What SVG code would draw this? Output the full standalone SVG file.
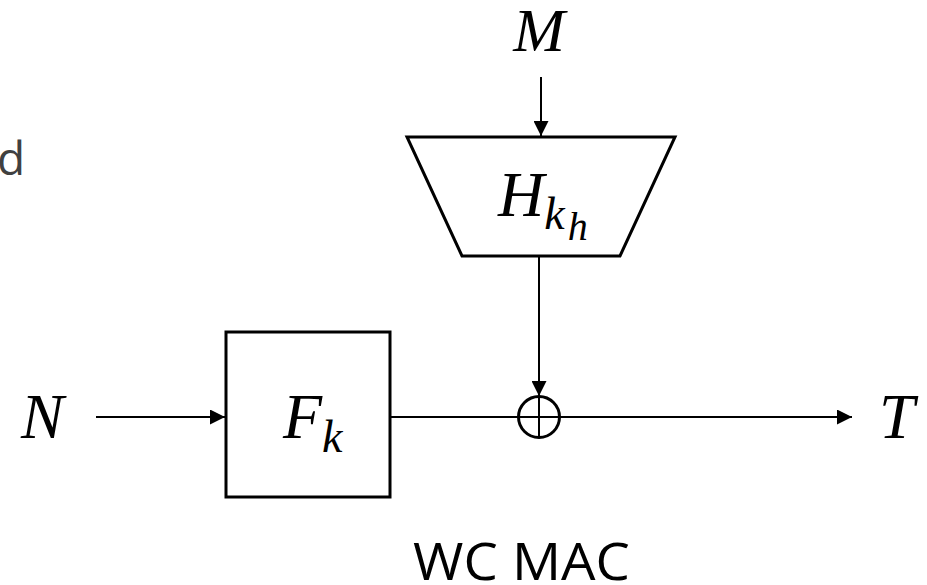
<svg xmlns="http://www.w3.org/2000/svg" width="927" height="585" viewBox="0 0 927 585">
<style>
.m{font-family:"Liberation Serif","DejaVu Serif",serif;font-style:italic;fill:#000}
.s{font-family:"Open Sans","Noto Sans",sans-serif}
.sh{fill:#fff;stroke:#000;stroke-width:3}
.c{fill:none;stroke:#000;stroke-width:2}
</style>
<defs>
<marker id="a" viewBox="0 0 10 10" refX="10" refY="5" markerWidth="16" markerHeight="15" markerUnits="userSpaceOnUse" orient="auto"><path d="M0,0 L10,5 L0,10 Z" fill="#000"/></marker>
</defs>
<rect width="927" height="585" fill="#fff"/>
<text class="s" x="-3" y="175" font-size="46" fill="#404040">d</text>
<g id="connectors">
<line class="c" x1="541" y1="77" x2="541" y2="136" marker-end="url(#a)"/>
<line class="c" x1="539" y1="256" x2="539" y2="396" marker-end="url(#a)"/>
<line class="c" x1="96" y1="417" x2="225" y2="417" marker-end="url(#a)"/>
<line class="c" x1="390" y1="417" x2="518" y2="417"/>
<line class="c" x1="560" y1="417" x2="852" y2="417" marker-end="url(#a)"/>
</g>
<g id="M"><text class="m" x="539" y="51" font-size="62" text-anchor="middle">M</text></g>
<g id="H">
<polygon class="sh" points="407,137 675,137 620,256 462,256"/>
<text class="m" x="498" y="216" font-size="64">H<tspan font-size="46" dy="13">k</tspan><tspan font-size="40" dx="3" dy="11">h</tspan></text>
</g>
<g id="F">
<rect class="sh" x="226" y="332" width="164" height="165"/>
<text class="m" x="283" y="438" font-size="64">F<tspan font-size="46" dy="14">k</tspan></text>
</g>
<g id="xor">
<circle class="sh" cx="539" cy="417" r="20.5"/>
<line class="c" x1="518.5" y1="417" x2="559.5" y2="417"/>
<line class="c" x1="539" y1="396.5" x2="539" y2="437.5"/>
</g>
<g id="N"><text class="m" x="21" y="438" font-size="64">N</text></g>
<g id="T"><text class="m" x="879" y="438" font-size="64">T</text></g>
<text class="s" x="413" y="580" font-size="52" textLength="217" lengthAdjust="spacingAndGlyphs">WC MAC</text>
</svg>
